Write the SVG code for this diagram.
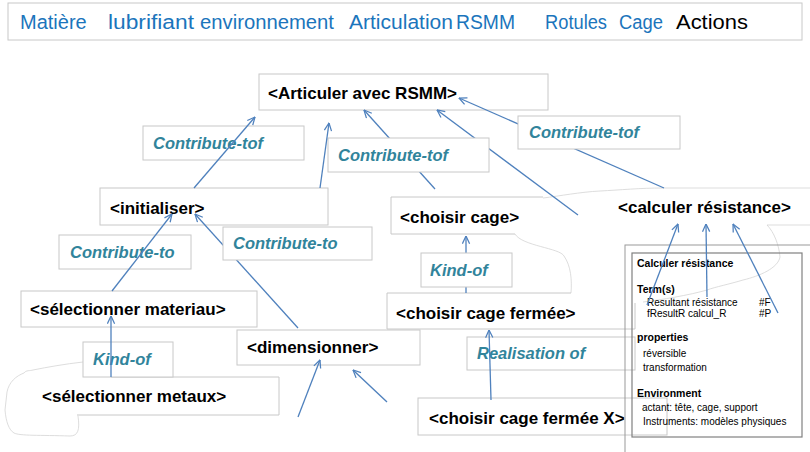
<svg xmlns="http://www.w3.org/2000/svg" width="810" height="452" viewBox="0 0 810 452">
<defs>
<marker id="arr" viewBox="0 0 10 10" refX="9.5" refY="5" markerWidth="9" markerHeight="9" markerUnits="userSpaceOnUse" orient="auto">
<path d="M1,1 L9.5,5 L1,9" fill="none" stroke="#4f81bd" stroke-width="1.4"/>
</marker>
<style>
.box{fill:#fff;stroke:#c8c8c8;stroke-width:1}
.edge{fill:none;stroke:#c8c8c8;stroke-width:1}
.free{fill:none;stroke:#d4d4d4;stroke-width:0.8}
.fill{fill:#fff;stroke:none}
.node{font-family:"Liberation Sans",Arial,sans-serif;font-weight:bold;font-size:17px;fill:#000}
.lab{font-family:"Liberation Sans",Arial,sans-serif;font-weight:bold;font-style:italic;font-size:16.5px;fill:#31849b}
.top{font-family:"Liberation Sans",Arial,sans-serif;font-size:20px;fill:#1b75bc}
.pt{font-family:"Liberation Sans",Arial,sans-serif;font-size:10px;fill:#000}
.pb{font-family:"Liberation Sans",Arial,sans-serif;font-size:10.5px;font-weight:bold;fill:#000}
.conn{fill:none;stroke:#4f81bd;stroke-width:1.3}
</style>
</defs>
<rect width="810" height="452" fill="#fff"/>

<g id="topbar">
<rect x="8" y="3" width="794" height="37" class="box"/>
<text class="top" x="20" y="29">Matière</text>
<text class="top" x="108" y="29" textLength="86" lengthAdjust="spacingAndGlyphs">lubrifiant</text>
<text class="top" x="200" y="29" textLength="134" lengthAdjust="spacingAndGlyphs">environnement</text>
<text class="top" x="349" y="29" textLength="104" lengthAdjust="spacingAndGlyphs">Articulation</text>
<text class="top" x="456" y="29" textLength="59" lengthAdjust="spacingAndGlyphs">RSMM</text>
<text class="top" x="545" y="29" textLength="62" lengthAdjust="spacingAndGlyphs">Rotules</text>
<text class="top" x="619" y="29" textLength="44" lengthAdjust="spacingAndGlyphs">Cage</text>
<text class="top" x="676" y="29" textLength="72" lengthAdjust="spacingAndGlyphs" style="fill:#000">Actions</text>
</g>

<g id="freeforms">
<path class="fill" d="M543,198 C560,196 580,192 600,191 C620,190 640,188 663,188 L810,188 L810,225 L767,225 C774,232 779,245 780,257 C778,268 760,276 743,280 C720,287 690,296 643,302 L635,302 L635,293 L571,293 C572,280 571,266 564,256 C560,248 522,246 515,234 L543,234 Z"/>
<path class="free" d="M543,198 C560,196 580,192 600,191 C620,190 640,188 663,188 L810,188"/>
<path class="free" d="M810,225 L767,225 C774,232 779,245 780,257 C778,268 760,276 743,280 C730,284 715,287 707,290 C690,295 660,300 643,302"/>
<path class="free" d="M515,234 C522,246 560,248 564,256 C571,266 572,280 571,293"/>
<path class="fill" d="M83,362 C65,364 48,367 33,370 C20,374 9,382 7,392 L5,420 C6,430 10,434 18,435 L70,436 C78,436 80,430 78,416 L83,416 Z"/>
<path class="free" d="M83,362 C65,364 48,367 33,370 C30,371 26,370 24,373 C16,376 9,382 7,392 L5,410 C6,422 9,430 14,433 C20,436 40,435 70,436 C78,436 80,430 78,416"/>
</g>

<g id="n-articuler">
<rect x="259" y="74" width="289" height="36" class="box"/>
<text class="node" x="268" y="99">&lt;Articuler avec RSMM&gt;</text>
</g>
<g id="n-initialiser">
<rect x="100" y="188" width="228" height="37" class="box"/>
<text class="node" x="110" y="214">&lt;initialiser&gt;</text>
</g>
<g id="n-choisir-cage">
<rect x="391" y="197" width="152" height="37" class="fill"/>
<path class="edge" d="M543,197 L391,197 L391,234 L515,234"/>
<text class="node" x="400" y="223">&lt;choisir cage&gt;</text>
</g>
<g id="n-calculer">
<text class="node" x="618" y="213">&lt;calculer résistance&gt;</text>
</g>
<g id="n-materiau">
<rect x="21" y="291" width="236" height="36" class="box"/>
<text class="node" x="30" y="315">&lt;sélectionner materiau&gt;</text>
</g>
<g id="n-cage-fermee">
<rect x="387" y="293" width="248" height="36" class="fill"/>
<path class="edge" d="M571,293 L387,293 L387,329 L635,329 L635,303"/>
<text class="node" x="396" y="319">&lt;choisir cage fermée&gt;</text>
</g>
<g id="n-dimensionner">
<rect x="237" y="330" width="183" height="35" class="box"/>
<text class="node" x="247" y="353">&lt;dimensionner&gt;</text>
</g>
<g id="n-metaux">
<rect x="77" y="377" width="202" height="38" class="fill"/>
<path class="edge" d="M111,377 L279,377 L279,415 L77,415"/>
<text class="node" x="42" y="402">&lt;sélectionner metaux&gt;</text>
</g>
<g id="n-cage-fermee-x">
<rect x="418" y="398" width="249" height="37" class="box"/>
<text class="node" x="429" y="424">&lt;choisir cage fermée X&gt;</text>
</g>

<g id="connectors-behind">
<line class="conn" x1="298" y1="328" x2="195" y2="214" marker-end="url(#arr)"/>
<line class="conn" x1="435" y1="189" x2="364" y2="110" marker-end="url(#arr)"/>
<line class="conn" x1="664" y1="188" x2="459" y2="98" marker-end="url(#arr)"/>
<line class="conn" x1="578" y1="215" x2="437" y2="110" marker-end="url(#arr)"/>
<line class="conn" x1="466" y1="293" x2="466" y2="236" marker-end="url(#arr)"/>
</g>

<g id="l-contribute-tof-1">
<rect x="143" y="126" width="161" height="34" class="box"/>
<text class="lab" x="153" y="149">Contribute-tof</text>
</g>
<g id="l-contribute-tof-2">
<rect x="328" y="138" width="161" height="34" class="box"/>
<text class="lab" x="338" y="161">Contribute-tof</text>
</g>
<g id="l-contribute-tof-3">
<rect x="518" y="116" width="162" height="33" class="box"/>
<text class="lab" x="529" y="138">Contribute-tof</text>
</g>
<g id="l-contribute-to-1">
<rect x="59" y="235" width="132" height="34" class="box"/>
<text class="lab" x="70" y="258">Contribute-to</text>
</g>
<g id="l-contribute-to-2">
<rect x="223" y="227" width="149" height="33" class="box"/>
<text class="lab" x="233" y="249">Contribute-to</text>
</g>
<g id="l-kind-of-1">
<rect x="83" y="342" width="90" height="35" class="box"/>
<text class="lab" x="93" y="365">Kind-of</text>
</g>
<g id="l-kind-of-2">
<rect x="421" y="253" width="91" height="34" class="box"/>
<text class="lab" x="430" y="276">Kind-of</text>
</g>
<g id="l-realisation">
<rect x="467" y="337" width="168" height="33" class="box"/>
<text class="lab" x="477" y="359">Realisation  of</text>
</g>

<g id="panel">
<rect x="625" y="245" width="200" height="220" fill="none" stroke="#9a9a9a" stroke-width="1"/>
<rect x="632" y="253" width="170" height="184" fill="none" stroke="#808080" stroke-width="1.2"/>
<text class="pb" x="637" y="267">Calculer résistance</text>
<text class="pb" x="637" y="293">Term(s)</text>
<text class="pt" x="647" y="306">Resultant résistance</text>
<text class="pt" x="759" y="306">#F</text>
<text class="pt" x="647" y="317">fResultR</text>
<text class="pt" x="688" y="317">calcul_R</text>
<text class="pt" x="759" y="317">#P</text>
<text class="pb" x="637" y="341">properties</text>
<text class="pt" x="643" y="357">réversible</text>
<text class="pt" x="643" y="371">transformation</text>
<text class="pb" x="637" y="397">Environment</text>
<text class="pt" x="642" y="411">actant: tête, cage, support</text>
<text class="pt" x="643" y="425">Instruments: modèles physiques</text>
</g>

<g id="connectors">
<line class="conn" x1="112" y1="291" x2="172" y2="214" marker-end="url(#arr)"/>
<line class="conn" x1="111" y1="377" x2="111" y2="316" marker-end="url(#arr)"/>
<line class="conn" x1="194" y1="188" x2="255" y2="117" marker-end="url(#arr)"/>
<line class="conn" x1="320" y1="188" x2="329" y2="123" marker-end="url(#arr)"/>
<line class="conn" x1="298" y1="417" x2="320" y2="360" marker-end="url(#arr)"/>
<line class="conn" x1="387" y1="402" x2="353" y2="370" marker-end="url(#arr)"/>
<line class="conn" x1="491" y1="400" x2="489" y2="330" marker-end="url(#arr)"/>
<line class="conn" x1="647" y1="305" x2="678" y2="224" marker-end="url(#arr)"/>
<line class="conn" x1="707" y1="297" x2="706" y2="224" marker-end="url(#arr)"/>
<line class="conn" x1="778" y1="313" x2="733" y2="224" marker-end="url(#arr)"/>
</g>
</svg>
